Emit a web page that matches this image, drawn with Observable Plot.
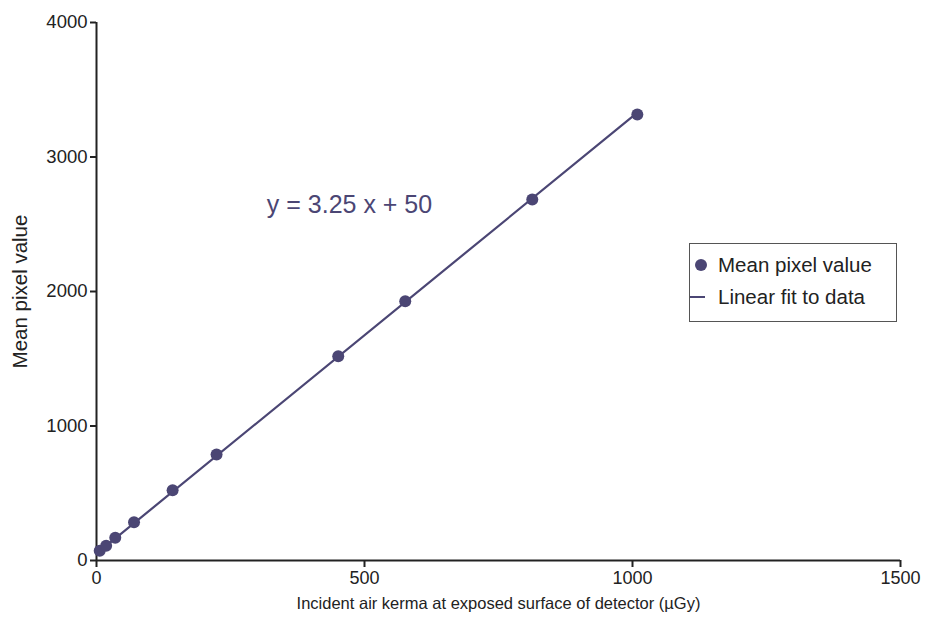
<!DOCTYPE html>
<html>
<head>
<meta charset="utf-8">
<script src="https://cdn.jsdelivr.net/npm/d3@7"></script>
<script src="https://cdn.jsdelivr.net/npm/@observablehq/plot@0.6"></script>
<style>
  html, body { margin: 0; padding: 0; background: #fff; }
  #wrap { position: relative; width: 925px; height: 626px; font-family: "Liberation Sans", Arial, sans-serif; }
  #legend {
    position: absolute; left: 689px; top: 243px; width: 208px; height: 79px;
    border: 1.5px solid #555; background: #fff; box-sizing: border-box;
    font-size: 20.5px; color: #222;
  }
  #legend .row { position: absolute; left: 0; height: 24px; display: flex; align-items: center; }
  #legend svg { display: block; }
</style>
</head>
<body>
<div id="wrap">
  <div id="legend">
    <div class="row" style="top:9px;">
      <svg width="28" height="24"><circle cx="11" cy="12" r="6" fill="#4b4674"></circle></svg>
      <span>Mean pixel value</span>
    </div>
    <div class="row" style="top:41px;">
      <svg width="28" height="24"><line x1="0" x2="15" y1="12" y2="12" stroke="#4b4674" stroke-width="2"></line></svg>
      <span>Linear fit to data</span>
    </div>
  </div>
</div>
<script>
// Incident air kerma (µGy) and measured mean pixel value
const kerma = [6, 18, 35, 70, 142, 224, 451, 576, 813, 1009];
const meanPixel = [72, 110, 170, 285, 522, 788, 1518, 1928, 2684, 3316];

// Linear fit y = slope * x + intercept
const slope = 3.25;
const intercept = 50;
const fitLabel = "y = 3.25 x + 50";
const fitLabelPos = [{x: 472, y: 2640}];

const xTicks = [0, 500, 1000, 1500];
const yTicks = [0, 1000, 2000, 3000, 4000];
const xTitle = "Incident air kerma at exposed surface of detector (µGy)";
const yTitle = "Mean pixel value";

const color = "#4b4674";
const axisColor = "#222";

const points = kerma.map((k, i) => ({x: k, y: meanPixel[i]}));
const xMin = d3.min(kerma), xMax = d3.max(kerma);
const fit = [xMin, xMax].map(x => ({x, y: slope * x + intercept}));

const chart = Plot.plot({
  width: 925,
  height: 626,
  marginLeft: 96,
  marginRight: 25,
  marginTop: 22,
  marginBottom: 66,
  style: {fontFamily: "Liberation Sans, Arial, sans-serif", fontSize: "18px", color: axisColor, background: "#fff"},
  x: {domain: [0, 1500]},
  y: {domain: [0, 4000]},
  marks: [
    Plot.axisX({
      ticks: xTicks, tickFormat: d3.format("d"), tickSize: 7, tickPadding: 4,
      strokeWidth: 2, fontSize: 18, label: null
    }),
    Plot.axisY({
      ticks: yTicks, tickFormat: d3.format("d"), tickSize: 6, tickPadding: 3,
      strokeWidth: 2, fontSize: 18.5, label: null
    }),
    Plot.text([xTitle], {frameAnchor: "bottom", dy: 48, fontSize: 16.5, fill: axisColor, text: d => d}),
    Plot.text([yTitle], {frameAnchor: "left", textAnchor: "middle", dx: -76, rotate: -90, fontSize: 20.5, fill: axisColor, text: d => d}),
    Plot.ruleX([0], {stroke: axisColor, strokeWidth: 2}),
    Plot.ruleY([0], {stroke: axisColor, strokeWidth: 2}),
    Plot.line(fit, {x: "x", y: "y", stroke: color, strokeWidth: 2.2}),
    Plot.dot(points, {x: "x", y: "y", r: 6, fill: color, stroke: "none"}),
    Plot.text(fitLabelPos, {x: "x", y: "y", text: () => fitLabel, fill: color, fontSize: 25})
  ]
});

document.getElementById("wrap").prepend(chart);
</script>
</body>
</html>
